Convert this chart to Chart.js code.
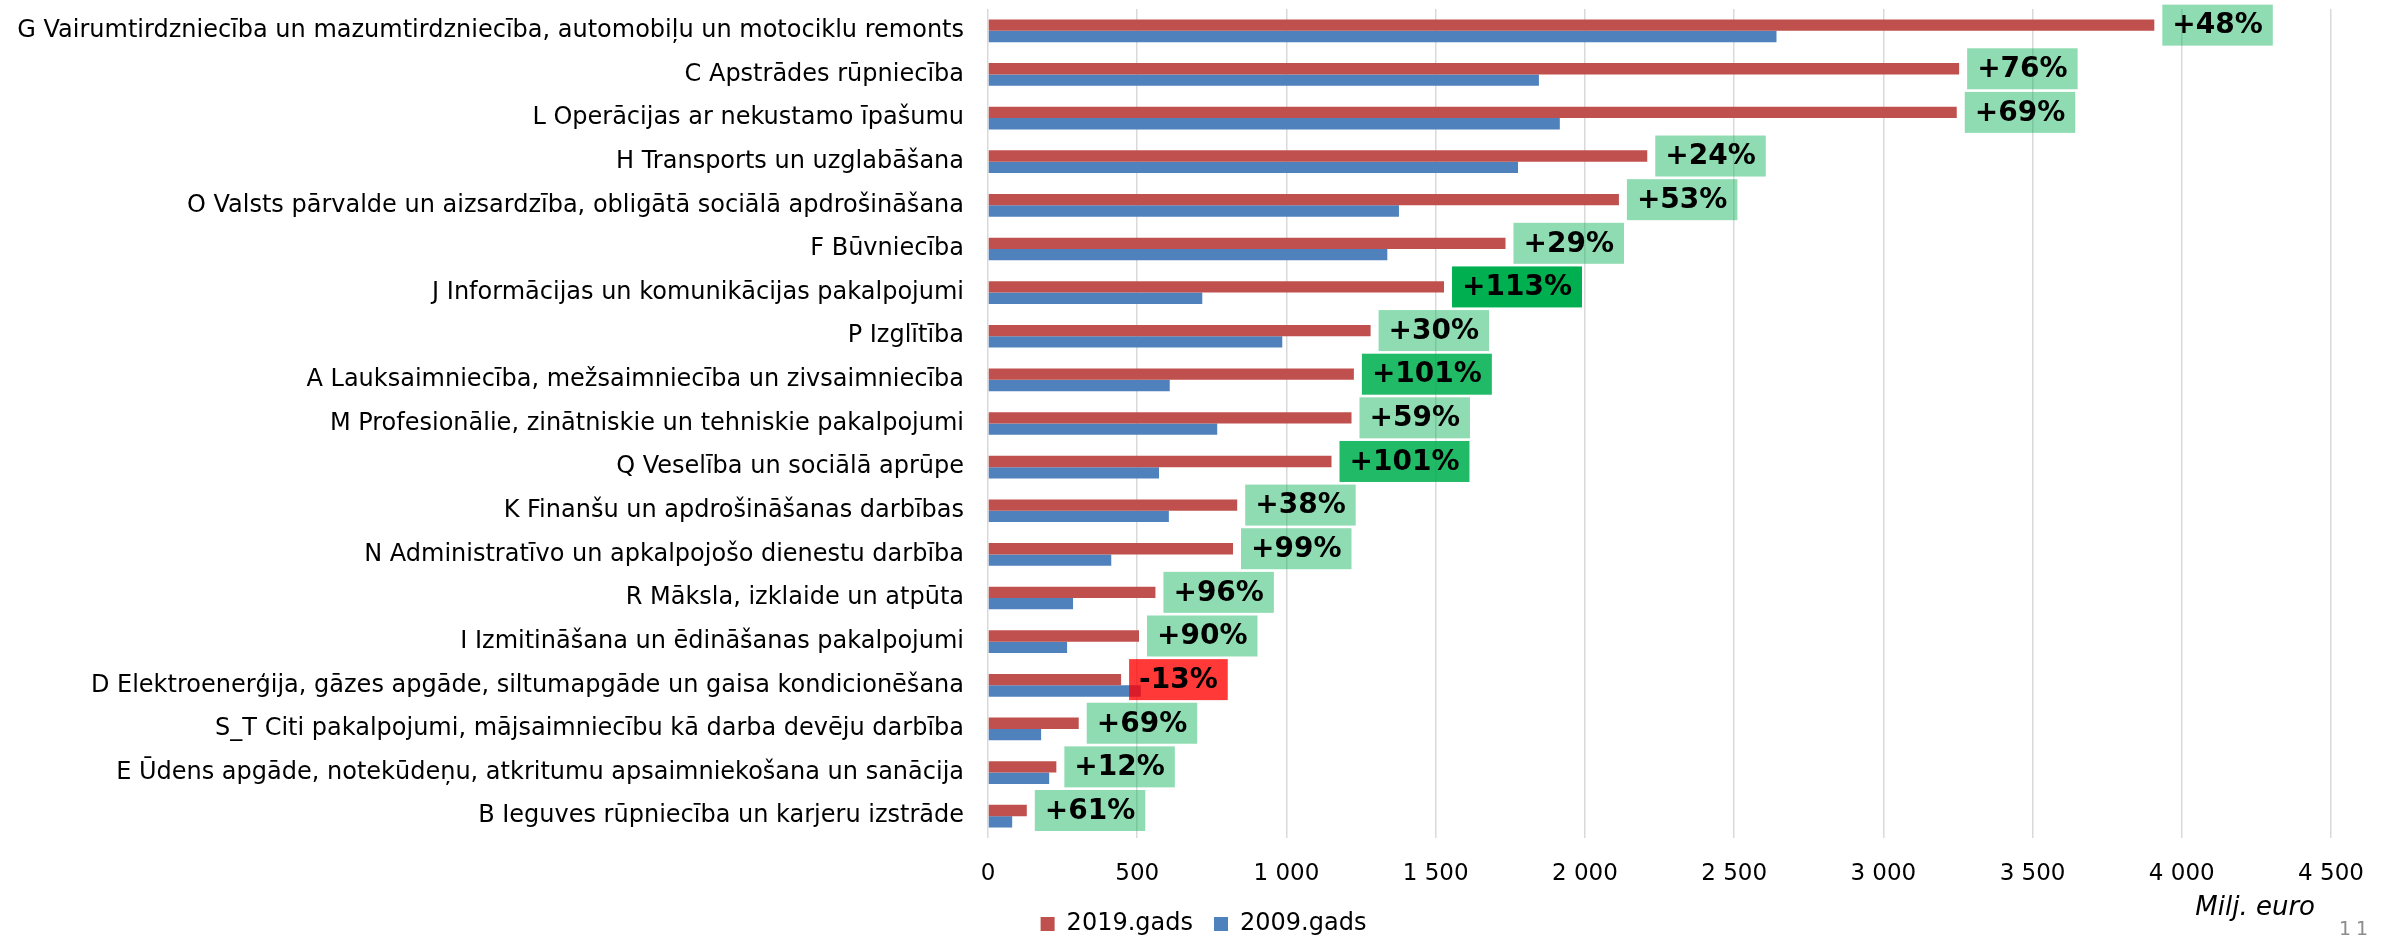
<!DOCTYPE html>
<html>
<head>
<meta charset="utf-8">
<script src="https://cdn.jsdelivr.net/npm/chart.js@4/dist/chart.umd.min.js"></script>
<style>
  html, body { margin: 0; padding: 0; background: #ffffff; overflow: hidden; }
  #wrap { width: 2389px; height: 946px; position: relative; }
</style>
</head>
<body>
<div id="wrap"><canvas id="c" width="2389" height="946"></canvas></div>
<script>
const categories = [
  "G Vairumtirdzniecība un mazumtirdzniecība, automobiļu un motociklu remonts",
  "C Apstrādes rūpniecība",
  "L Operācijas ar nekustamo īpašumu",
  "H Transports un uzglabāšana",
  "O Valsts pārvalde un aizsardzība, obligātā sociālā apdrošināšana",
  "F Būvniecība",
  "J Informācijas un komunikācijas pakalpojumi",
  "P Izglītība",
  "A Lauksaimniecība, mežsaimniecība un zivsaimniecība",
  "M Profesionālie, zinātniskie un tehniskie pakalpojumi",
  "Q Veselība un sociālā aprūpe",
  "K Finanšu un apdrošināšanas darbības",
  "N Administratīvo un apkalpojošo dienestu darbība",
  "R Māksla, izklaide un atpūta",
  "I Izmitināšana un ēdināšanas pakalpojumi",
  "D Elektroenerģija, gāzes apgāde, siltumapgāde un gaisa kondicionēšana",
  "S_T Citi pakalpojumi, mājsaimniecību kā darba devēju darbība",
  "E Ūdens apgāde, notekūdeņu, atkritumu apsaimniekošana un sanācija",
  "B Ieguves rūpniecība un karjeru izstrāde"
];
const series2019Label = "2019.gads";
const series2009Label = "2009.gads";
const values2019 = [3908, 3254, 3246, 2209, 2114, 1734, 1528, 1282, 1226, 1218, 1151, 835, 821, 561, 506, 446, 304, 229, 130];
const values2009 = [2642, 1846, 1916, 1776, 1377, 1338, 718, 986, 609, 768, 573, 606, 413, 285, 265, 512, 178, 205, 81];
const changeLabels = ["+48%", "+76%", "+69%", "+24%", "+53%", "+29%", "+113%", "+30%", "+101%", "+59%", "+101%", "+38%", "+99%", "+96%", "+90%", "-13%", "+69%", "+12%", "+61%"];
const xTickMin = 0, xTickMax = 4500, xTickStep = 500;
const unitLabel = "Milj. euro";
const pageNumber = "11";

const FONT = "'DejaVu Sans', Verdana, sans-serif";

function boxColor(label) {
  const v = parseInt(label, 10);
  if (v < 0) return "rgba(255,0,0,0.78)";
  if (v >= 110) return "rgb(0,176,80)";
  if (v >= 100) return "rgba(0,176,80,0.87)";
  return "rgba(0,176,80,0.44)";
}

const changeBoxes = {
  id: "changeBoxes",
  afterLayout(chart) {
    if (chart.legend) { chart.legend.left += 38; chart.legend.right += 38; }
  },
  afterDatasetsDraw(chart) {
    const ctx = chart.ctx;
    const meta = chart.getDatasetMeta(0);
    ctx.save();
    ctx.font = "bold 28px " + FONT;
    ctx.textBaseline = "middle";
    ctx.textAlign = "left";
    meta.data.forEach((bar, i) => {
      const txt = changeLabels[i];
      const w = ctx.measureText(txt).width + 20;
      const h = 41;
      const x = bar.x + 8;
      const y = bar.y - h / 2;
      ctx.fillStyle = boxColor(txt);
      ctx.fillRect(x, y, w, h);
      ctx.fillStyle = "#000000";
      ctx.fillText(txt, x + 10, bar.y + 1);
    });
    ctx.restore();
  },
  afterDraw(chart) {
    const ctx = chart.ctx;
    const area = chart.chartArea;
    ctx.save();
    ctx.font = "italic 26px " + FONT;
    ctx.fillStyle = "#000000";
    ctx.textAlign = "right";
    ctx.textBaseline = "middle";
    ctx.fillText(unitLabel, area.right - 16, area.bottom + 70);
    ctx.font = "19px " + FONT;
    ctx.fillStyle = "#8C8C8C";
    ctx.textAlign = "left";
    ctx.textBaseline = "top";
    try { ctx.letterSpacing = "5px"; } catch (e) {}
    ctx.fillText(pageNumber, area.right + 8, area.bottom + 83);
    ctx.restore();
  }
};

new Chart(document.getElementById("c"), {
  type: "bar",
  data: {
    labels: categories,
    datasets: [
      { label: series2019Label, data: values2019, backgroundColor: "#C0504D", borderWidth: 0 },
      { label: series2009Label, data: values2009, backgroundColor: "#4F81BD", borderWidth: 0 }
    ]
  },
  options: {
    indexAxis: "y",
    responsive: false,
    animation: false,
    devicePixelRatio: 1,
    layout: { padding: { left: 0, right: 58, top: 9, bottom: 0 } },
    datasets: { bar: { categoryPercentage: 0.52, barPercentage: 1.0 } },
    scales: {
      x: {
        min: xTickMin, max: xTickMax,
        grid: { color: "#D9D9D9", lineWidth: 1.5, drawTicks: false },
        border: { display: false },
        ticks: {
          stepSize: xTickStep,
          padding: 22,
          color: "#000000",
          font: { family: FONT, size: 23 },
          callback: (v) => String(v).replace(/\B(?=(\d{3})+(?!\d))/g, " ")
        },
        afterFit: (scale) => { scale.height = 53; }
      },
      y: {
        grid: { display: false, drawTicks: false },
        border: { display: false },
        ticks: {
          padding: 24,
          color: "#000000",
          autoSkip: false,
          font: { family: FONT, size: 24 }
        },
        afterFit: (scale) => { scale.width = 988; scale.paddingTop = 0; scale.paddingBottom = 0; }
      }
    },
    plugins: {
      legend: {
        position: "bottom",
        labels: {
          boxWidth: 14, boxHeight: 14, padding: 21,
          color: "#000000",
          font: { family: FONT, size: 24 }
        }
      },
      tooltip: { enabled: false }
    }
  },
  plugins: [changeBoxes]
});
</script>
</body>
</html>
